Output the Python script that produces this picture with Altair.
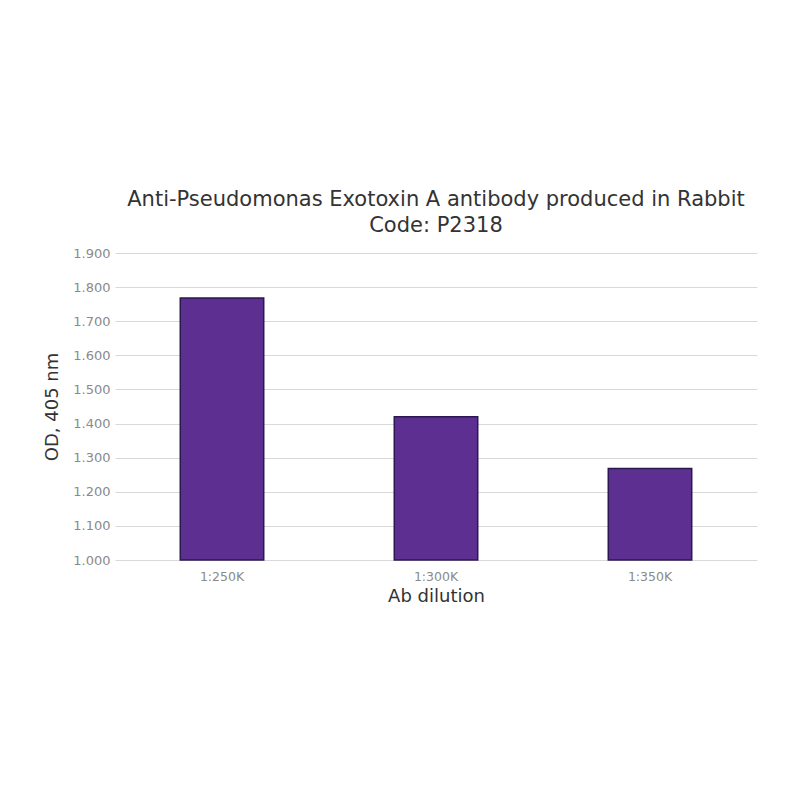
import altair as alt
import pandas as pd

categories = ["1:250K", "1:300K", "1:350K"]
values = [1.768, 1.420, 1.268]
y_ticks = [1.0, 1.1, 1.2, 1.3, 1.4, 1.5, 1.6, 1.7, 1.8, 1.9]

df = pd.DataFrame({"dilution": categories, "od": values})

FONT = "DejaVu Sans"

chart = alt.Chart(df).mark_bar(
    color="#5c2f91", stroke="#2b1850", strokeWidth=1.5
).encode(
    x=alt.X("dilution:N", sort=categories,
            scale=alt.Scale(paddingInner=0.61, paddingOuter=0.305),
            axis=alt.Axis(title="Ab dilution", labelAngle=0, labelColor="#8a8a8a",
                          labelFontSize=12.5, labelFont=FONT, titleFont=FONT,
                          titleFontSize=18, titleFontWeight="normal", titleColor="#333333",
                          ticks=False, domain=False, labelPadding=10, titlePadding=5)),
    y=alt.Y("od:Q", scale=alt.Scale(domain=[1.0, 1.9], zero=False, nice=False),
            axis=alt.Axis(title="OD, 405 nm", values=y_ticks, format=".3f",
                          labelColor="#8a8a8a", labelFontSize=13, labelFont=FONT,
                          titleFont=FONT, titleFontSize=18, titleFontWeight="normal",
                          titleColor="#333333", ticks=False, domain=False,
                          gridColor="#d9d9d9", gridWidth=1.2, labelPadding=5,
                          titlePadding=11)),
    y2=alt.datum(1.0),
).properties(
    width=642, height=307,
    title=alt.TitleParams(
        ["Anti-Pseudomonas Exotoxin A antibody produced in Rabbit", "Code: P2318"],
        font=FONT, fontSize=21, fontWeight="normal", color="#333333",
        anchor="middle", lineHeight=26, offset=11),
    autosize=alt.AutoSizeParams(type="none"),
    padding={"left": 107, "top": 245, "right": 30, "bottom": 100},
).configure_view(stroke=None)

chart.save("out.html", embed_options={"renderer": "svg", "actions": False})
